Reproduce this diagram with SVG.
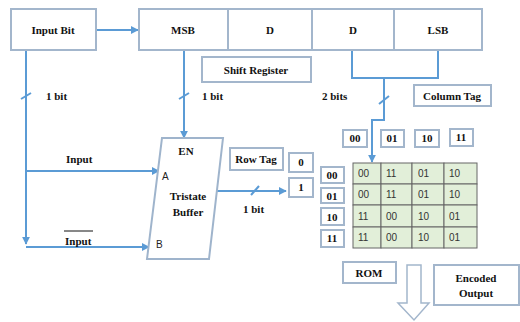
<svg xmlns="http://www.w3.org/2000/svg" width="520" height="322" viewBox="0 0 520 322">
<style>
.box{fill:#fff;stroke:#a3b6cc;stroke-width:2}
.t{font-family:"Liberation Serif",serif;font-weight:bold;font-size:11px;fill:#111;text-anchor:middle}
.tl{font-family:"Liberation Serif",serif;font-weight:bold;font-size:11px;fill:#111}
.s{font-family:"Liberation Sans",sans-serif;font-size:10px;fill:#222}
.w{stroke:#5b9bd5;stroke-width:2;fill:none}
.cell{fill:#e2efd9;stroke:#666;stroke-width:1}
.g{font-family:"Liberation Sans",sans-serif;font-size:10px;fill:#333}
</style>
<defs>
<marker id="ah" viewBox="0 0 10 10" refX="9" refY="5" markerWidth="4" markerHeight="4" orient="auto" markerUnits="strokeWidth">
<path d="M0,0 L10,5 L0,10 z" fill="#5b9bd5"/>
</marker>
</defs>
<g id="connectors">
<path class="w" d="M96,30 H138" marker-end="url(#ah)"/>
<path class="w" d="M26,50 V244" marker-end="url(#ah)"/>
<path class="w" d="M26,171 H159" marker-end="url(#ah)"/>
<path class="w" d="M26,247 H149" marker-end="url(#ah)"/>
<path class="w" d="M184,50 V138" marker-end="url(#ah)"/>
<path class="w" d="M352,50 V78 H438 V50"/>
<path class="w" d="M384,78 V120 H372 V162" marker-end="url(#ah)"/>
<path class="w" d="M216,191 H286" marker-end="url(#ah)"/>
<path class="w" d="M21,99 L31,93"/>
<path class="w" d="M179,99 L189,93"/>
<path class="w" d="M379,104 L389,96"/>
<path class="w" d="M251,195 L259,186"/>
</g>
<g id="input-bit"><rect class="box" x="11" y="9" width="85" height="41"/><text class="t" x="53" y="34">Input Bit</text></g>
<g id="shift-register-cells">
<rect class="box" x="139" y="9" width="89" height="41"/><text class="t" x="183" y="34">MSB</text>
<rect class="box" x="228" y="9" width="84" height="41"/><text class="t" x="270" y="34">D</text>
<rect class="box" x="312" y="9" width="82" height="41"/><text class="t" x="353" y="34">D</text>
<rect class="box" x="394" y="9" width="88" height="41"/><text class="t" x="438" y="34">LSB</text>
</g>
<g id="shift-register-label"><rect class="box" x="202" y="57" width="109" height="25"/><text class="t" x="256" y="74">Shift Register</text></g>
<g id="labels">
<text class="tl" x="46" y="100">1 bit</text>
<text class="tl" x="202" y="100">1 bit</text>
<text class="tl" x="322" y="100">2 bits</text>
<text class="tl" x="66" y="163">Input</text>
<text class="tl" x="65" y="245">Input</text>
<line x1="64" y1="231" x2="93" y2="231" stroke="#111" stroke-width="1"/>
<text class="tl" x="243" y="213">1 bit</text>
</g>
<g id="column-tag"><rect class="box" x="414" y="85" width="77" height="21"/><text class="t" x="452" y="100">Column Tag</text></g>
<g id="tristate-buffer">
<path d="M162,138 L223,138 L209,259 L147,259 Z" fill="#fff" stroke="#9fb4cc" stroke-width="2"/>
<text class="t" x="186" y="155">EN</text>
<text class="s" x="162" y="180">A</text>
<text class="s" x="156" y="248">B</text>
<text class="t" x="188" y="200">Tristate</text>
<text class="t" x="188" y="216">Buffer</text>
</g>
<g id="row-tag"><rect class="box" x="230" y="148" width="53" height="22"/><text class="t" x="256" y="163">Row Tag</text></g>
<g id="row-tag-0"><rect class="box" x="289" y="153" width="24" height="19"/><text class="t" x="301" y="166">0</text></g>
<g id="row-tag-1"><rect class="box" x="289" y="178" width="24" height="19"/><text class="t" x="301" y="191">1</text></g>
<g id="col-headers">
<rect class="box" x="343" y="130" width="24" height="17"/><text class="t" x="355" y="142">00</text>
<rect class="box" x="381" y="130" width="23" height="17"/><text class="t" x="392" y="142">01</text>
<rect class="box" x="415" y="130" width="24" height="17"/><text class="t" x="427" y="142">10</text>
<rect class="box" x="450" y="129" width="23" height="17"/><text class="t" x="461" y="141">11</text>
</g>
<g id="row-headers">
<rect class="box" x="321" y="167" width="23" height="16"/><text class="t" x="332" y="179">00</text>
<rect class="box" x="321" y="188" width="23" height="15"/><text class="t" x="332" y="200">01</text>
<rect class="box" x="321" y="208" width="23" height="17"/><text class="t" x="332" y="221">10</text>
<rect class="box" x="321" y="230" width="23" height="17"/><text class="t" x="332" y="242">11</text>
</g>
<g id="rom-table">
<rect class="cell" x="353" y="163" width="28" height="21"/><rect class="cell" x="381" y="163" width="31" height="21"/><rect class="cell" x="412" y="163" width="32" height="21"/><rect class="cell" x="444" y="163" width="33" height="21"/>
<rect class="cell" x="353" y="184" width="28" height="21"/><rect class="cell" x="381" y="184" width="31" height="21"/><rect class="cell" x="412" y="184" width="32" height="21"/><rect class="cell" x="444" y="184" width="33" height="21"/>
<rect class="cell" x="353" y="205" width="28" height="22"/><rect class="cell" x="381" y="205" width="31" height="22"/><rect class="cell" x="412" y="205" width="32" height="22"/><rect class="cell" x="444" y="205" width="33" height="22"/>
<rect class="cell" x="353" y="227" width="28" height="21"/><rect class="cell" x="381" y="227" width="31" height="21"/><rect class="cell" x="412" y="227" width="32" height="21"/><rect class="cell" x="444" y="227" width="33" height="21"/>
<text class="g" x="358" y="177">00</text><text class="g" x="386" y="177">11</text><text class="g" x="418" y="177">01</text><text class="g" x="449" y="177">10</text>
<text class="g" x="358" y="198">00</text><text class="g" x="386" y="198">11</text><text class="g" x="418" y="198">01</text><text class="g" x="449" y="198">10</text>
<text class="g" x="358" y="220">11</text><text class="g" x="386" y="220">00</text><text class="g" x="418" y="220">10</text><text class="g" x="449" y="220">01</text>
<text class="g" x="358" y="241">11</text><text class="g" x="386" y="241">00</text><text class="g" x="418" y="241">10</text><text class="g" x="449" y="241">01</text>
</g>
<g id="rom"><rect class="box" x="343" y="262" width="53" height="21"/><text class="t" x="369" y="277">ROM</text></g>
<g id="output-arrow"><path d="M407,265 H421 V303 H429 L414,320 L398,303 H407 Z" fill="#fff" stroke="#a3b6cc" stroke-width="1.5"/></g>
<g id="encoded-output"><rect class="box" x="434" y="265" width="85" height="40"/><text class="t" x="476" y="282">Encoded</text><text class="t" x="476" y="297">Output</text></g>
</svg>
